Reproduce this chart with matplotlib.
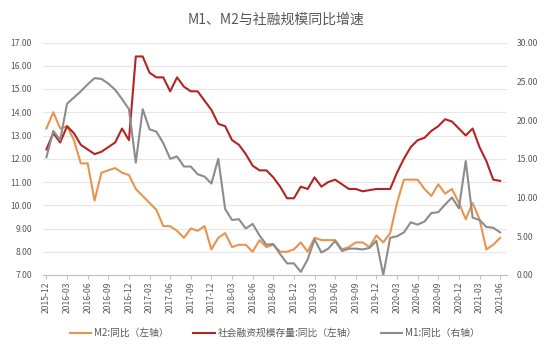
import numpy as np
import matplotlib
matplotlib.use('Agg')
import matplotlib.pyplot as plt

plt.rcParams['font.family'] = ['Noto Sans CJK SC', 'DejaVu Sans']

# Monthly data, 2015-12 to 2021-06
months = []
for y in range(2015, 2022):
    for m in range(1, 13):
        if (y, m) >= (2015, 12) and (y, m) <= (2021, 6):
            months.append(f'{y}-{m:02d}')

# M2 yoy (left axis)
m2 = [13.3, 14.0, 13.3, 13.4, 12.8, 11.8, 11.8, 10.2, 11.4, 11.5, 11.6, 11.4,
      11.3, 10.7, 10.4, 10.1, 9.8, 9.1, 9.1, 8.9, 8.6, 9.0, 8.9, 9.1,
      8.1, 8.6, 8.8, 8.2, 8.3, 8.3, 8.0, 8.5, 8.2, 8.3, 8.0, 8.0,
      8.1, 8.4, 8.0, 8.6, 8.5, 8.5, 8.5, 8.1, 8.2, 8.4, 8.4, 8.2,
      8.7, 8.4, 8.8, 10.1, 11.1, 11.1, 11.1, 10.7, 10.4, 10.9, 10.5, 10.7,
      10.1, 9.4, 10.1, 9.4, 8.1, 8.3, 8.6]

# Social financing stock yoy (left axis)
tsf = [12.4, 13.1, 12.7, 13.4, 13.1, 12.6, 12.4, 12.2, 12.3, 12.5, 12.7, 13.3,
       12.8, 16.4, 16.4, 15.7, 15.5, 15.5, 14.9, 15.5, 15.1, 14.9, 14.9, 14.5,
       14.1, 13.5, 13.4, 12.8, 12.6, 12.2, 11.7, 11.5, 11.5, 11.2, 10.8, 10.3,
       10.3, 10.8, 10.7, 11.2, 10.8, 11.0, 11.1, 10.9, 10.7, 10.7, 10.6, 10.65,
       10.7, 10.7, 10.7, 11.4, 12.0, 12.5, 12.8, 12.9, 13.2, 13.4, 13.7, 13.6,
       13.3, 13.0, 13.3, 12.5, 11.9, 11.1, 11.05]

# M1 yoy (right axis)
m1 = [15.2, 18.6, 17.4, 22.1, 22.9, 23.7, 24.6, 25.4, 25.3, 24.7, 23.9, 22.7,
      21.4, 14.5, 21.4, 18.8, 18.5, 17.0, 15.0, 15.3, 14.0, 14.0, 13.0, 12.7,
      11.8, 15.0, 8.5, 7.1, 7.2, 6.0, 6.6, 5.1, 3.9, 4.0, 2.7, 1.5,
      1.5, 0.4, 2.0, 4.6, 2.9, 3.4, 4.4, 3.1, 3.4, 3.4, 3.3, 3.5,
      4.4, 0.0, 4.8, 5.0, 5.5, 6.8, 6.5, 6.9, 8.0, 8.1, 9.1, 10.0,
      8.6, 14.7, 7.4, 7.1, 6.2, 6.1, 5.5]

c_m2 = '#E8944F'
c_tsf = '#B22525'
c_m1 = '#8C8C8C'
txt = '#595959'

fig = plt.figure(figsize=(5.5, 3.56), dpi=100)
ax = fig.add_axes([43 / 550, 81 / 356, 464 / 550, 232.5 / 356])
x = np.arange(len(months))

l1, = ax.plot(x, m2, color=c_m2, lw=1.5, label='M2:同比（左轴）')
l2, = ax.plot(x, tsf, color=c_tsf, lw=1.5, label='社会融资规模存量:同比（左轴）')
ax.set_ylim(7, 17)
ax.set_yticks(np.arange(7, 17.1, 1))
ax.yaxis.set_major_formatter(matplotlib.ticker.FormatStrFormatter('%.2f'))
ax.grid(axis='y', color='#E6E6E6', lw=0.8)
ax.set_axisbelow(True)
ax.set_xlim(-0.5, 67)
ax.set_xticks(x[::3])
ax.set_xticklabels(months[::3], rotation=90)
ax.tick_params(axis='x', length=3, color='#BFBFBF', labelsize=6.2, labelcolor=txt, pad=2)
ax.tick_params(axis='y', length=0, labelsize=6.2, labelcolor=txt, pad=8)
for s in ['top', 'right', 'left']:
    ax.spines[s].set_visible(False)
ax.spines['bottom'].set_color('#BFBFBF')

ax2 = ax.twinx()
l3, = ax2.plot(x, m1, color=c_m1, lw=1.5, label='M1:同比（右轴）')
ax2.set_ylim(0, 30)
ax2.set_yticks(np.arange(0, 30.1, 5))
ax2.yaxis.set_major_formatter(matplotlib.ticker.FormatStrFormatter('%.2f'))
ax2.tick_params(axis='y', length=0, labelsize=6.2, labelcolor=txt, pad=7)
for s in ['top', 'right', 'left', 'bottom']:
    ax2.spines[s].set_visible(False)

fig.text(276 / 550, 1 - 20 / 356, 'M1、M2与社融规模同比增速', ha='center', va='center',
         fontsize=10, color=txt)

fig.legend([l1, l2, l3], [l1.get_label(), l2.get_label(), l3.get_label()],
           loc='center', bbox_to_anchor=(275 / 550, 23 / 356), ncol=3, frameon=False,
           fontsize=7, handlelength=2.2, columnspacing=2.5, handletextpad=0.3,
           labelcolor=txt)

fig.savefig('out.png', dpi=100)
